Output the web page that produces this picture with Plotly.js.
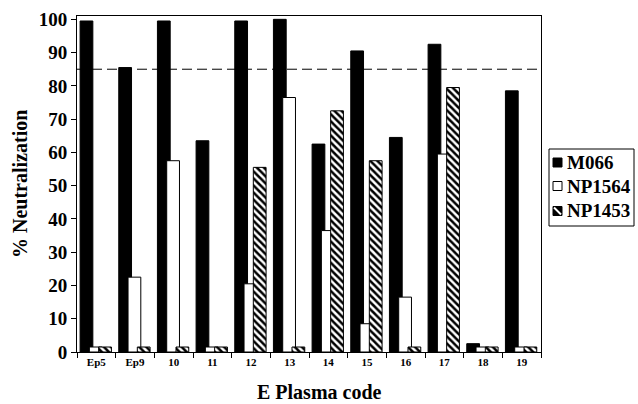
<!DOCTYPE html>
<html><head><meta charset="utf-8">
<script src="https://cdn.plot.ly/plotly-3.0.1.min.js"></script>
<style>html,body{margin:0;padding:0;background:#fff}</style>
</head><body><div id="chart" style="width:638px;height:404px"></div>
<script>
const categories = ["Ep5","Ep9","10","11","12","13","14","15","16","17","18","19"];
const m066   = [99.5, 85.5, 99.5, 63.5, 99.5, 100, 62.5, 90.5, 64.5, 92.5, 2.5, 78.5];
const np1564 = [1.5, 22.5, 57.5, 1.5, 20.5, 76.5, 36.5, 8.5, 16.5, 59.5, 1.5, 1.5];
const np1453 = [1.5, 1.5, 1.5, 1.5, 55.5, 1.5, 72.5, 57.5, 1.5, 79.5, 1.5, 1.5];
const thresholdLine = 85;
const seriesNames = ["M066","NP1564","NP1453"];

const serif = "Liberation Serif, Times New Roman, serif";

// plot area in pixels (for converting legend placement)
const M = {l:77, r:97, t:16, b:52};
const W = 638, H = 404;
const pw = W - M.l - M.r, ph = H - M.t - M.b;
const px = v => (v - M.l) / pw;
const py = v => (H - M.b - v) / ph;

const barW = 0.33;
const traces = [
  {type:"bar", name:seriesNames[0], x:categories, y:m066, width:barW, offset:-0.42,
   marker:{color:"#000", line:{color:"#000", width:1}}, showlegend:false},
  {type:"bar", name:seriesNames[1], x:categories, y:np1564, width:barW, offset:-0.18,
   marker:{color:"#fff", line:{color:"#000", width:1}}, showlegend:false},
  {type:"bar", name:seriesNames[2], x:categories, y:np1453, width:barW, offset:0.06,
   marker:{color:"#fff", line:{color:"#000", width:1},
     pattern:{shape:"\\", fgcolor:"#000", bgcolor:"#fff", size:5, solidity:0.5}}, showlegend:false}
];

// legend drawn as layout shapes + annotations
const legY = [162.5, 186, 211];
const legFill = ["#000", "#fff", "#000"];
const box = {l:549, r:634, t:149, b:226};
const shapes = [
  {type:"line", xref:"paper", x0:0, x1:1, yref:"y", y0:thresholdLine, y1:thresholdLine,
   line:{color:"#000", width:1, dash:"10px,5px"}},
  {type:"line", xref:"paper", yref:"paper", x0:px(box.l), x1:px(box.r), y0:py(box.t), y1:py(box.t), line:{color:"#000", width:1}},
  {type:"line", xref:"paper", yref:"paper", x0:px(box.l), x1:px(box.r), y0:py(box.b), y1:py(box.b), line:{color:"#000", width:1}},
  {type:"line", xref:"paper", yref:"paper", x0:px(box.l), x1:px(box.l), y0:py(box.t), y1:py(box.b), line:{color:"#000", width:1}},
  {type:"line", xref:"paper", yref:"paper", x0:px(box.r), x1:px(box.r), y0:py(box.t), y1:py(box.b), line:{color:"#000", width:1}}
];
const annotations = [
  {text:"% Neutralization", xref:"paper", yref:"paper", x:px(20), y:0.5,
   xanchor:"center", yanchor:"middle", textangle:-90, showarrow:false,
   font:{family:serif, size:20, color:"#000", weight:"bold"}},
  {text:"E Plasma code", xref:"paper", yref:"paper", x:px(319), y:py(392),
   xanchor:"center", yanchor:"middle", showarrow:false,
   font:{family:serif, size:20, color:"#000", weight:"bold"}}
];
seriesNames.forEach((name, i) => {
  const c = legY[i];
  shapes.push({type:"rect", xref:"paper", yref:"paper", x0:px(553), x1:px(562), y0:py(c-4.5), y1:py(c+4.5),
    line:{color:"#000", width:1}, fillcolor:legFill[i]});
  if (i === 2) {
    shapes.push({type:"line", xref:"paper", yref:"paper", x0:px(554), x1:px(561), y0:py(c-3.5), y1:py(c+3.5),
      line:{color:"#fff", width:2}});
  }
  annotations.push({text:name, xref:"paper", yref:"paper", x:px(565), y:py(c),
    xanchor:"left", yanchor:"middle", showarrow:false,
    font:{family:serif, size:19, color:"#000", weight:"bold"}});
});

const layout = {
  width:W, height:H,
  font:{family:serif, color:"#000"},
  margin:M,
  paper_bgcolor:"#fff", plot_bgcolor:"#fff",
  barmode:"overlay",
  showlegend:false,
  xaxis:{type:"category", showline:true, mirror:true, linecolor:"#000", linewidth:1,
    ticks:"outside", tickson:"boundaries", ticklen:5, tickcolor:"#000",
    tickfont:{family:serif, size:11, color:"#000", weight:"bold"},
    showgrid:false, zeroline:false},
  yaxis:{range:[0,101], showline:true, mirror:true, linecolor:"#000", linewidth:1,
    ticks:"outside", ticklen:5, tickcolor:"#000", dtick:10,
    tickfont:{family:serif, size:19, color:"#000", weight:"bold"},
    showgrid:false, zeroline:false},
  shapes:shapes,
  annotations:annotations
};
Plotly.newPlot("chart", traces, layout, {displayModeBar:false, staticPlot:true});
</script></body></html>
